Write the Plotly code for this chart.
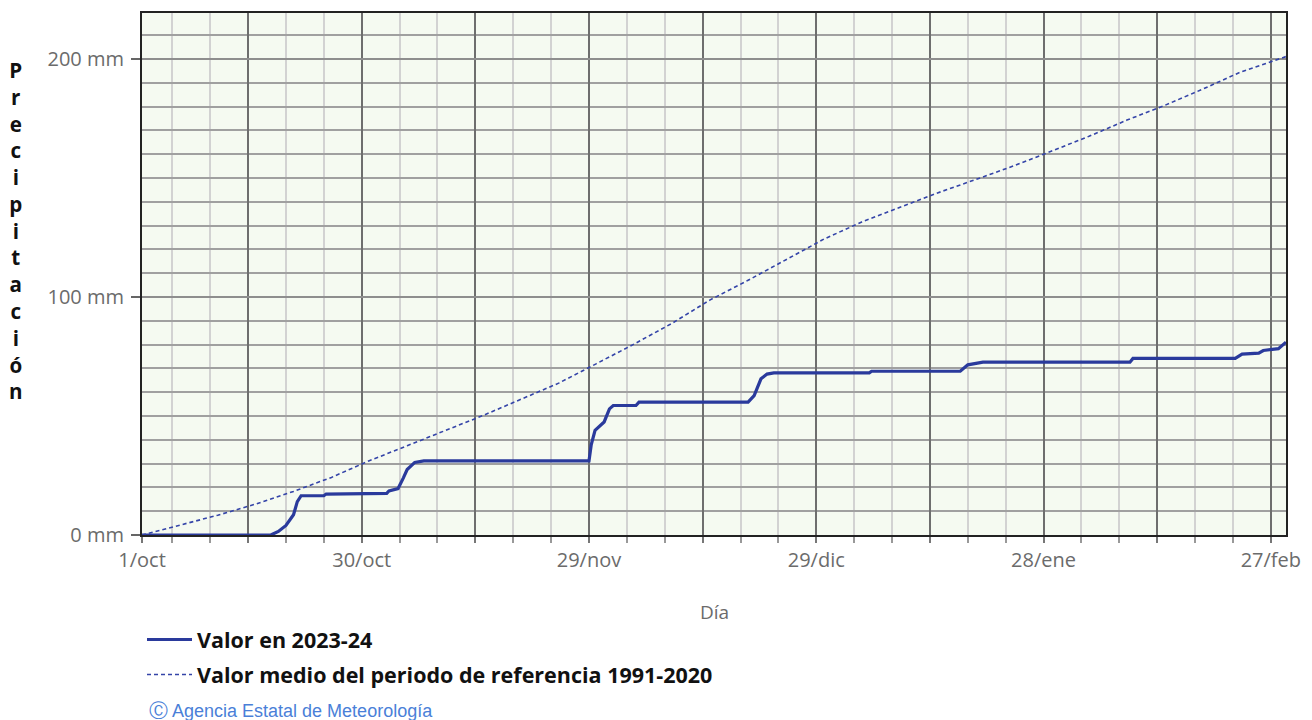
import pandas as pd
import plotly.graph_objects as go

START = pd.Timestamp("2023-10-01")

# Precipitación acumulada observada 2023-24 (día desde 1/oct, mm)
obs_days = [0, 17, 18, 19, 20, 20.5, 21, 24, 24.3, 32.3, 32.6, 33.8, 34.5, 35, 36, 37.2,
            59, 59.3, 59.8, 61, 61.7, 62.2, 65.2, 65.6, 80, 80.8, 81.7, 82.5, 83.4,
            96, 96.3, 108, 109, 111, 130.4, 130.8, 144.3, 145.2, 147.4, 148, 150, 151]
obs_mm = [0, 0, 1.5, 4, 8.5, 14, 16.5, 16.5, 17.2, 17.5, 18.5, 19.5, 24, 27.5, 30.5, 31.1,
          31.1, 38, 44, 47.5, 53, 54.4, 54.4, 55.8, 55.8, 58.6, 65.6, 67.6, 68.1,
          68.1, 68.8, 68.8, 71.5, 72.6, 72.6, 74.2, 74.2, 76, 76.4, 77.5, 78.3, 81]

# Valor medio del periodo de referencia 1991-2020 (día desde 1/oct, mm)
mean_days = [0, 5, 10, 15, 20, 25, 30, 35, 40, 45, 50, 55, 60, 65, 70, 75, 80, 85, 90,
             95, 100, 105, 110, 115, 120, 125, 130, 135, 140, 145, 151]
mean_mm = [0, 4.0, 8.3, 13.0, 18.3, 24.2, 31.2, 37.5, 43.8, 50.2, 57.0, 63.8, 72.0, 80.3,
           89.0, 98.8, 107.0, 115.5, 124.3, 131.5, 137.5, 143.7, 149.3, 155.0, 161.2,
           167.5, 174.3, 180.5, 187.3, 194.5, 201.0]

# Ejes
x_major_days = [0, 14, 29, 44, 59, 74, 89, 104, 119, 134, 149]
x_major_labels = ["1/oct", "", "30/oct", "", "29/nov", "", "29/dic", "", "28/ene", "", "27/feb"]
x_end_day = 151
y_ticks = [0, 100, 200]
y_labels = ["0 mm", "100 mm", "200 mm"]
y_max = 219.3


def to_dates(days):
    return [START + pd.Timedelta(days=d) for d in days]


BLUE = "#2a3a9c"
fig = go.Figure()
fig.add_trace(go.Scatter(
    x=to_dates(obs_days), y=obs_mm, mode="lines",
    name="<b>Valor en 2023-24</b>", legendgroup="a",
    line=dict(color=BLUE, width=3.2)))
fig.add_trace(go.Scatter(
    x=to_dates(mean_days), y=mean_mm, mode="lines",
    name="<b>Valor medio del periodo de referencia 1991-2020</b>", legendgroup="b",
    line=dict(color="#3444a8", width=1.6, dash="4px,3px")))

TICKFONT = dict(family="Open Sans", size=20, color="#6b6b6b")

fig.update_xaxes(
    type="date",
    range=[START, START + pd.Timedelta(days=x_end_day)],
    tickmode="array",
    tickvals=to_dates(x_major_days), ticktext=x_major_labels,
    ticks="outside", ticklen=6, tickcolor="#777", tickwidth=1.5,
    showgrid=True, gridcolor="#6e6e6e", gridwidth=2,
    minor=dict(tick0=START + pd.Timedelta(days=4), dtick=5 * 86400000,
               showgrid=True, gridcolor="#d2d2d2", gridwidth=2,
               ticks="outside", ticklen=6, tickcolor="#999", tickwidth=1.5),
    showline=True, mirror=True, linecolor="#222", linewidth=2,
    tickfont=TICKFONT, ticklabelstandoff=0,
    zeroline=False,
)
fig.update_yaxes(
    range=[0, y_max],
    tickmode="array", tickvals=y_ticks, ticktext=y_labels,
    ticks="outside", ticklen=9, tickcolor="#666", tickwidth=1.5,
    ticklabelstandoff=3,
    showgrid=True, gridcolor="#8e8e8e", gridwidth=2,
    minor=dict(dtick=10, showgrid=True, gridcolor="#a0a0a0", gridwidth=2, ticks=""),
    showline=True, mirror=True, linecolor="#222", linewidth=2,
    tickfont=TICKFONT,
    zeroline=False,
)

ylabel = "<br>".join(list("Precipitación"))
fig.add_annotation(
    text="<b>" + ylabel + "</b>", xref="paper", yref="paper",
    x=-0.11, y=0.584, xanchor="center", yanchor="middle", showarrow=False,
    font=dict(family="Open Sans", size=20.6, color="#111"), align="center")
fig.add_annotation(
    text="Día", xref="paper", yref="paper", x=0.5, y=-0.148,
    xanchor="center", yanchor="middle", showarrow=False,
    font=dict(family="Open Sans", size=19, color="#6b6b6b"))
fig.add_annotation(
    text="<span style='font-size:19px'>Ⓒ</span> Agencia Estatal de Meteorología",
    xref="paper", yref="paper",
    x=0.004, y=-0.336, xanchor="left", yanchor="middle", showarrow=False,
    font=dict(family="Liberation Sans", size=18, color="#4a7fd8"))

fig.update_layout(
    width=1312, height=720,
    margin=dict(l=142, r=21, t=11, b=185),
    paper_bgcolor="white", plot_bgcolor="#f5faf1",
    showlegend=True,
    legend=dict(orientation="v", x=0.0, y=-0.161, xanchor="left", yanchor="top",
                xref="paper", yref="paper", itemwidth=45, tracegroupgap=4,
                traceorder="grouped",
                font=dict(family="Open Sans", size=21.5, color="#111"),
                bgcolor="rgba(0,0,0,0)"),
)

fig.write_html("out.html", config={"displayModeBar": False},
               post_script="document.body.style.margin='0';")
